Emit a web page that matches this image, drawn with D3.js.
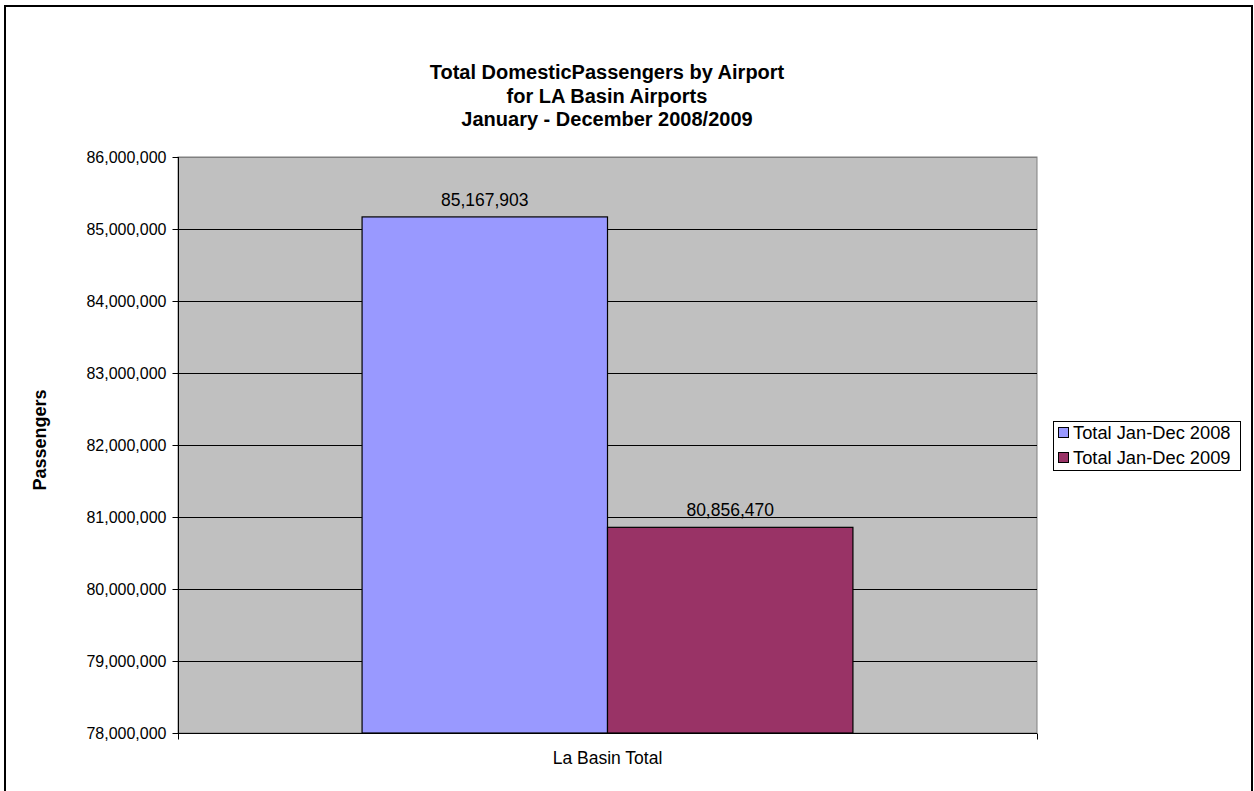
<!DOCTYPE html>
<html><head><meta charset="utf-8">
<script src="https://cdn.jsdelivr.net/npm/d3@7"></script>
<style>body{margin:0;background:#fff;}svg{display:block;font-family:"Liberation Sans",Arial,sans-serif;}</style>
</head><body><svg id="c" width="1254" height="791"></svg>
<script>
const categories = ["La Basin Total"];
const seriesNames = ["Total Jan-Dec 2008", "Total Jan-Dec 2009"];
const series2008 = [85167903];
const series2009 = [80856470];
const yTicks = [78000000, 79000000, 80000000, 81000000, 82000000, 83000000, 84000000, 85000000, 86000000];
const titleLines = ["Total DomesticPassengers by Airport", "for LA Basin Airports", "January - December 2008/2009"];
const colors = ["#9999FF", "#993366"];

const FS = 17.5;
const svg = d3.select("#c");
svg.append("rect").attr("x",5).attr("y",6).attr("width",1247).attr("height",800).attr("fill","#fff").attr("stroke","#000").attr("stroke-width",2);

const L=178, R=1037, T=157, B=733;
const y = d3.scaleLinear().domain([78000000, 86000000]).range([B, T]);
const x0 = d3.scaleBand().domain(categories).range([L, R]);
const x1 = d3.scaleBand().domain(seriesNames).range([0, x0.bandwidth()]).paddingInner(0).paddingOuter(0.75);

svg.append("rect").attr("x",L).attr("y",T).attr("width",R-L).attr("height",B-T).attr("fill","#C0C0C0").attr("stroke","#808080").attr("stroke-width",1);

// gridlines
svg.append("g").selectAll("line").data(yTicks.slice(1)).join("line")
  .attr("x1",L).attr("x2",R).attr("y1",d=>Math.round(y(d))+0.5).attr("y2",d=>Math.round(y(d))+0.5)
  .attr("stroke", d=> d===86000000 ? "#808080" : "#000").attr("stroke-width",1);

// bars
const data = categories.map((c,i)=>({cat:c, vals:[series2008[i], series2009[i]]}));
const g = svg.append("g");
data.forEach(d=>{
  d.vals.forEach((v,j)=>{
    const bx = x0(d.cat)+x1(seriesNames[j]);
    g.append("rect").attr("x",bx).attr("y",y(v)).attr("width",x1.bandwidth()).attr("height",B-y(v))
      .attr("fill",colors[j]).attr("stroke","#000").attr("stroke-width",1.2);
    g.append("text").attr("x",bx+x1.bandwidth()/2).attr("y",y(v)-11).attr("text-anchor","middle")
      .attr("font-size",FS).attr("fill","#000").text(d3.format(",")(v));
  });
});

// y axis
const yAxis = d3.axisLeft(y).tickValues(yTicks).tickSize(6).tickFormat(d3.format(","));
const ya = svg.append("g").attr("transform",`translate(${L+0.5},0)`).call(yAxis);
ya.select(".domain").attr("stroke","#000").attr("d",`M0,${T}V${B}`);
ya.selectAll(".tick line").attr("stroke","#000");
ya.selectAll(".tick text").attr("font-size",16).attr("font-family","Liberation Sans, Arial, sans-serif").attr("fill","#000").attr("dx",-3).attr("dy","0.36em");

// x axis
const xa = svg.append("g").attr("transform",`translate(0,${B+0.5})`);
xa.append("line").attr("x1",L).attr("x2",R).attr("stroke","#000");
[L, R].forEach(px=>xa.append("line").attr("x1",px+0.5).attr("x2",px+0.5).attr("y1",0).attr("y2",6).attr("stroke","#000"));
xa.selectAll("text").data(categories).join("text").attr("x",d=>x0(d)+x0.bandwidth()/2).attr("y",30)
  .attr("text-anchor","middle").attr("font-size",FS).text(d=>d);

// y title
svg.append("text").attr("transform","translate(46,440) rotate(-90)").attr("text-anchor","middle")
  .attr("font-size",18).attr("font-weight","bold").text("Passengers");

// title
svg.append("g").selectAll("text").data(titleLines).join("text")
  .attr("x",607).attr("y",(d,i)=>79+i*23.5).attr("text-anchor","middle")
  .attr("font-size",20).attr("font-weight","bold").text(d=>d);

// legend
const lg = svg.append("g");
lg.append("rect").attr("x",1053.5).attr("y",421.5).attr("width",187).attr("height",49).attr("fill","#fff").attr("stroke","#000");
seriesNames.forEach((s,i)=>{
  const cy = 433+i*25;
  lg.append("rect").attr("x",1058.5).attr("y",cy-5.5).attr("width",10).attr("height",10).attr("fill",colors[i]).attr("stroke","#000");
  lg.append("text").attr("x",1073).attr("y",cy+6).attr("font-size",18.3).text(s);
});
</script></body></html>
